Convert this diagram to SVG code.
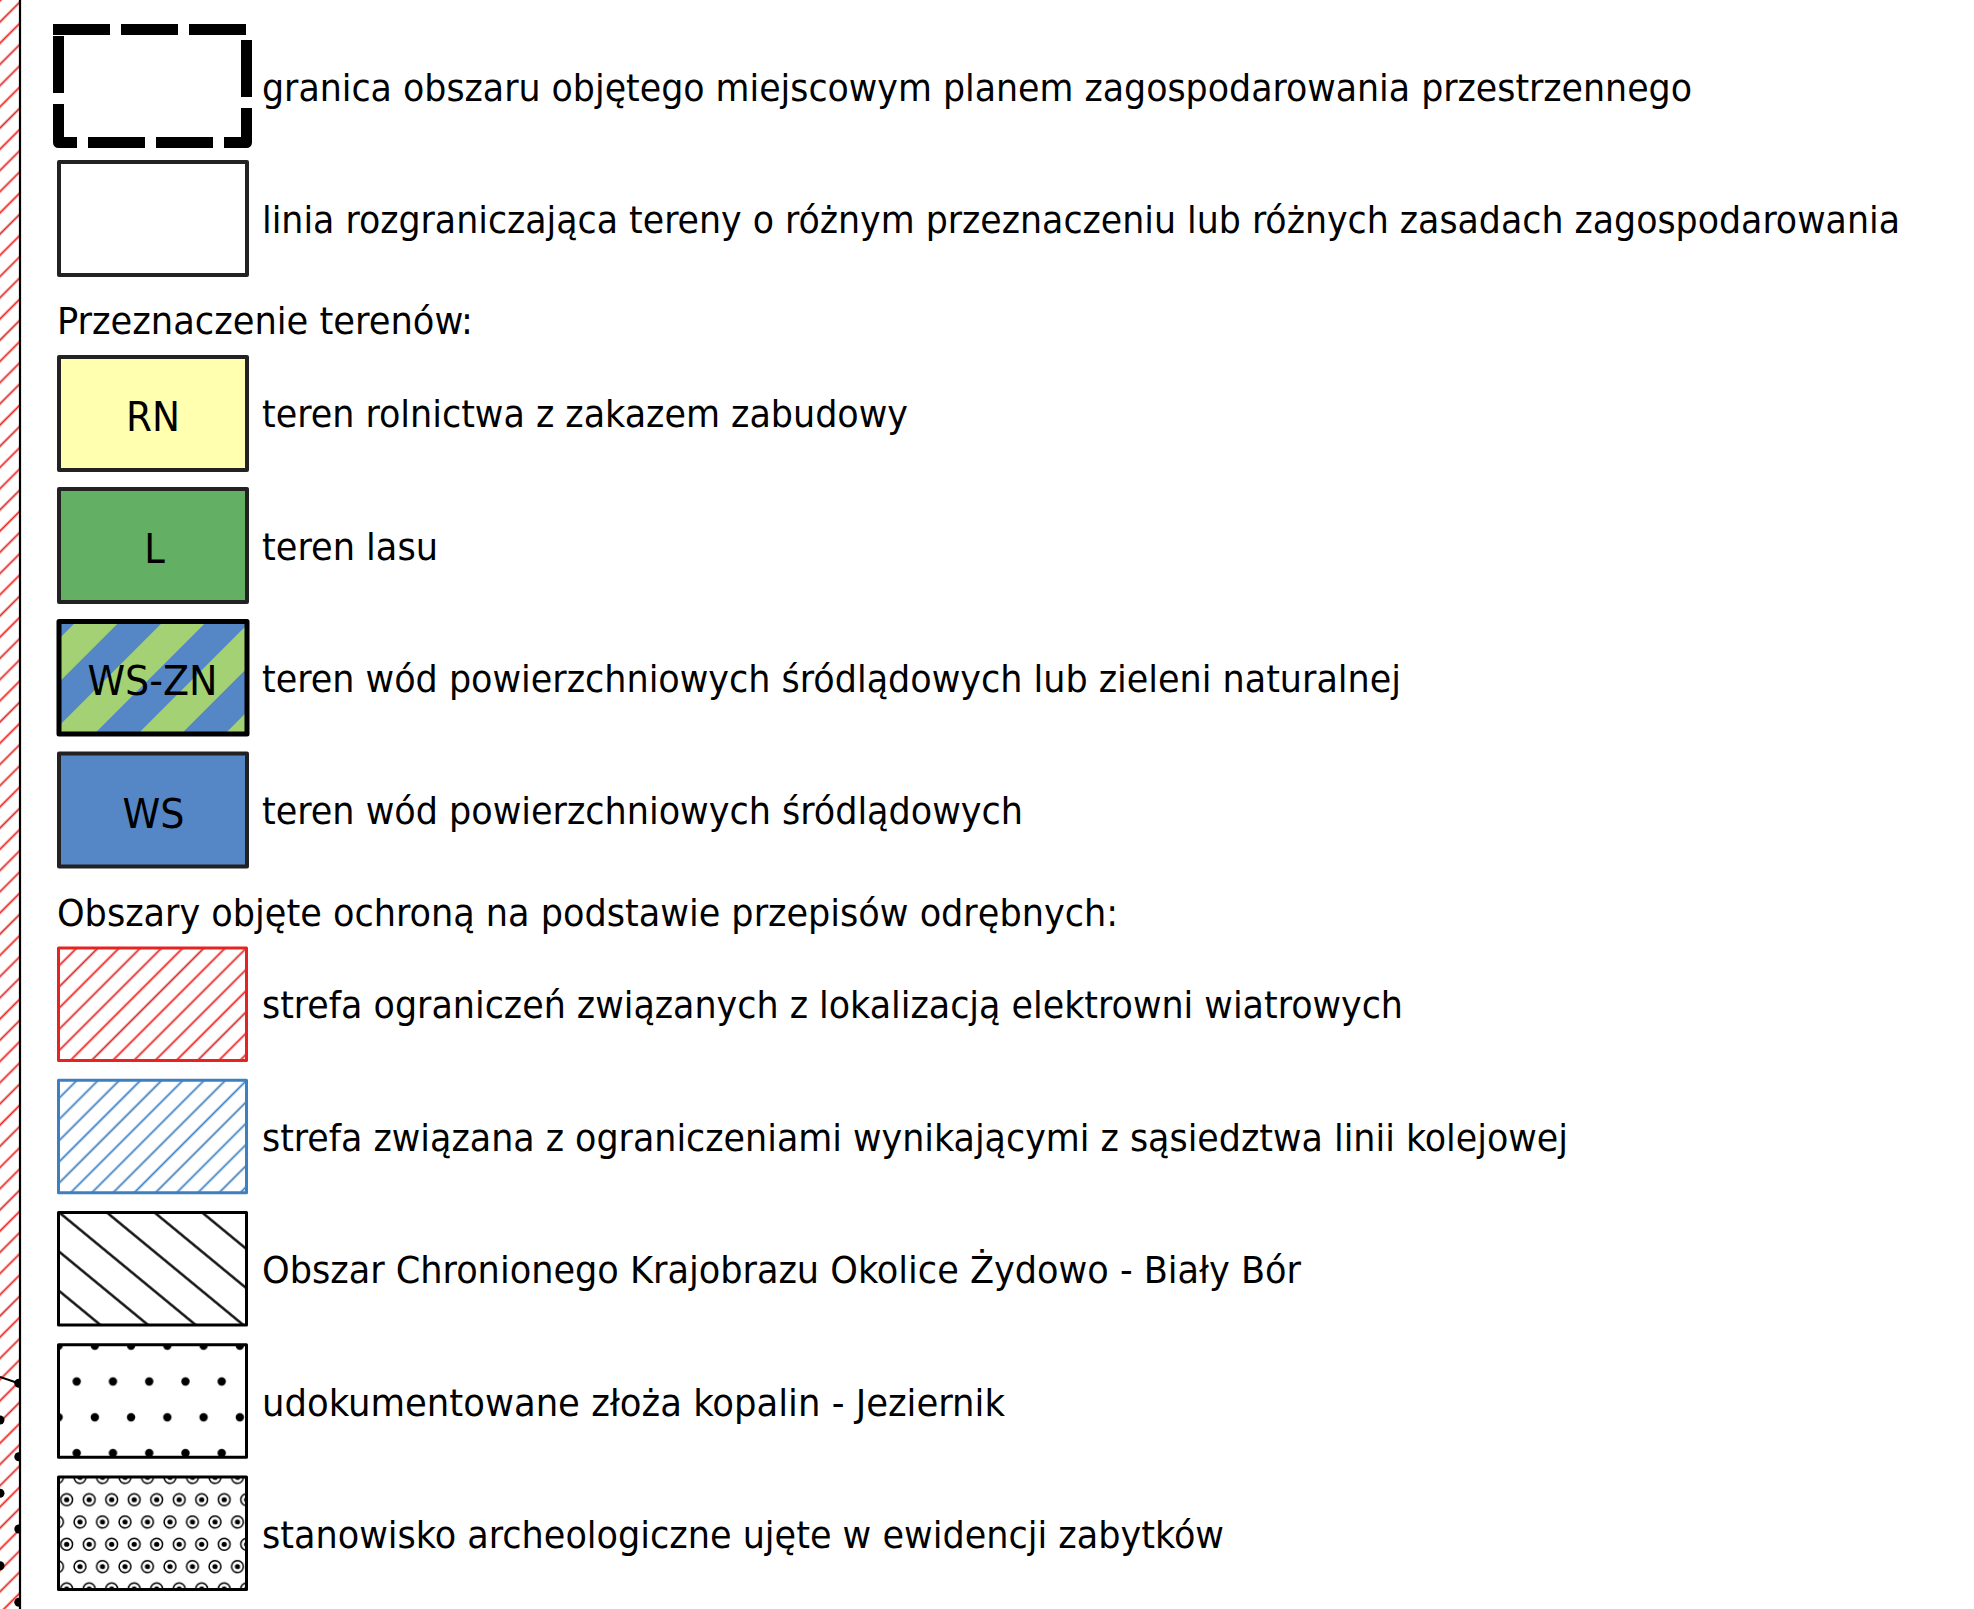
<svg xmlns="http://www.w3.org/2000/svg" width="1974" height="1609" viewBox="0 0 1974 1609">
<style>
.t{font-family:"DejaVu Sans Condensed","DejaVu Sans","Liberation Sans",sans-serif;font-size:38px;fill:#000}
.lab{font-family:"DejaVu Sans Condensed","DejaVu Sans","Liberation Sans",sans-serif;font-size:41px;fill:#000;text-anchor:middle}
.bx{stroke:#222;stroke-width:4;stroke-linejoin:round}
.bx3{stroke-width:3;stroke-linejoin:round}
</style>
<defs>
<pattern id="hRed" patternUnits="userSpaceOnUse" x="-2.9" y="0" width="15" height="15" patternTransform="rotate(45)">
<rect x="6.6" y="0" width="1.8" height="15" fill="#e52421"/>
</pattern>
<pattern id="hStrip" patternUnits="userSpaceOnUse" x="-7" y="0" width="15" height="15" patternTransform="rotate(45)">
<rect x="6.6" y="0" width="1.8" height="15" fill="#e52421"/>
</pattern>
<pattern id="hBlue" patternUnits="userSpaceOnUse" x="0.8" y="0" width="15" height="15" patternTransform="rotate(45)">
<rect x="6.6" y="0" width="1.8" height="15" fill="#3d80c2"/>
</pattern>
<pattern id="hBlack" patternUnits="userSpaceOnUse" x="0" y="4.05" width="50" height="30.3" patternTransform="rotate(39.5)">
<rect x="0" y="14" width="50" height="2.3" fill="#000"/>
</pattern>
<pattern id="stripes" patternUnits="userSpaceOnUse" x="32.2" y="0" width="61.5" height="20" patternTransform="rotate(45)">
<rect x="0" y="0" width="30.75" height="20" fill="#5586c6"/>
<rect x="30.75" y="0" width="30.75" height="20" fill="#a3d173"/>
</pattern>
<pattern id="dots" patternUnits="userSpaceOnUse" x="58.6" y="1363.6" width="36.25" height="71.6">
<circle cx="18.125" cy="17.9" r="4.2" fill="#000"/>
<circle cx="0" cy="53.7" r="4.2" fill="#000"/>
<circle cx="36.25" cy="53.7" r="4.2" fill="#000"/>
</pattern>
<pattern id="arch" patternUnits="userSpaceOnUse" x="55.45" y="1488.55" width="22.5" height="44.6">
<g fill="none" stroke="#000" stroke-width="1.5">
<circle cx="11.25" cy="11.15" r="5.9"/>
<circle cx="2.05" cy="33.45" r="5.9"/>
<circle cx="24.55" cy="33.45" r="5.9"/>
</g>
<circle cx="11.25" cy="11.15" r="2.6" fill="#000"/>
<circle cx="2.05" cy="33.45" r="2.6" fill="#000"/>
<circle cx="24.55" cy="33.45" r="2.6" fill="#000"/>
</pattern>
<clipPath id="stripClip"><rect x="0" y="0" width="19.5" height="1609"/></clipPath>
</defs>
<rect x="0" y="0" width="1974" height="1609" fill="#fff"/>

<g id="map-edge">
<g clip-path="url(#stripClip)">
<rect x="0" y="0" width="19.5" height="1609" fill="url(#hStrip)"/>
<line x1="0" y1="1377" x2="18.5" y2="1383.3" stroke="#000" stroke-width="2"/>
<g fill="#000">
<circle cx="18.8" cy="1383.3" r="4.5"/>
<circle cx="0" cy="1420" r="4.5"/>
<circle cx="18.8" cy="1456.7" r="4.5"/>
<circle cx="0" cy="1493.3" r="4.5"/>
<circle cx="18.8" cy="1529" r="4.5"/>
<circle cx="0" cy="1565.7" r="4.5"/>
<circle cx="18.8" cy="1602.3" r="4.5"/>
</g>
</g>
<line x1="20" y1="0" x2="20" y2="1609" stroke="#000" stroke-width="2.2"/>
</g>

<g id="connectors"></g>

<g id="item-granica">
<path d="M58.5,29.5 H246.5 V142.5 H58.5 Z" fill="none" stroke="#000" stroke-width="11" stroke-dasharray="46 22" stroke-linecap="square" stroke-linejoin="round"/>
<text class="t" x="262" y="100.5" textLength="1430" lengthAdjust="spacingAndGlyphs">granica obszaru objętego miejscowym planem zagospodarowania przestrzennego</text>
</g>

<g id="item-linia">
<rect class="bx" x="59" y="162" width="188" height="113" fill="#fff"/>
<text class="t" x="262" y="232.5" textLength="1638" lengthAdjust="spacingAndGlyphs">linia rozgraniczająca tereny o różnym przeznaczeniu lub różnych zasadach zagospodarowania</text>
</g>

<g id="header-przeznaczenie">
<text class="t" x="57" y="334.3" textLength="416" lengthAdjust="spacingAndGlyphs">Przeznaczenie terenów:</text>
</g>

<g id="item-RN">
<rect class="bx" x="59" y="357" width="188" height="113" fill="#ffffaf"/>
<text class="lab" x="153" y="430.8" textLength="54" lengthAdjust="spacingAndGlyphs">RN</text>
<text class="t" x="262" y="427.3" textLength="646" lengthAdjust="spacingAndGlyphs">teren rolnictwa z zakazem zabudowy</text>
</g>

<g id="item-L">
<rect class="bx" x="59" y="489" width="188" height="113" fill="#63af63"/>
<text class="lab" x="154.5" y="563">L</text>
<text class="t" x="262" y="559.5" textLength="176" lengthAdjust="spacingAndGlyphs">teren lasu</text>
</g>

<g id="item-WS-ZN">
<rect x="59" y="621.5" width="188" height="112.5" fill="url(#stripes)" stroke="#000" stroke-width="5" stroke-linejoin="round"/>
<text class="lab" x="152.5" y="695" textLength="130" lengthAdjust="spacingAndGlyphs">WS-ZN</text>
<text class="t" x="262" y="691.8" textLength="1139" lengthAdjust="spacingAndGlyphs">teren wód powierzchniowych śródlądowych lub zieleni naturalnej</text>
</g>

<g id="item-WS">
<rect class="bx" x="59" y="753.5" width="188" height="113" fill="#5586c6"/>
<text class="lab" x="153.5" y="827.6" textLength="62" lengthAdjust="spacingAndGlyphs">WS</text>
<text class="t" x="262" y="824" textLength="761" lengthAdjust="spacingAndGlyphs">teren wód powierzchniowych śródlądowych</text>
</g>

<g id="header-obszary">
<text class="t" x="57" y="925.5" textLength="1061" lengthAdjust="spacingAndGlyphs">Obszary objęte ochroną na podstawie przepisów odrębnych:</text>
</g>

<g id="item-wiatrowe">
<rect class="bx3" x="58.5" y="948" width="188" height="112.5" fill="url(#hRed)" stroke="#e52421"/>
<text class="t" x="262" y="1018.4" textLength="1141" lengthAdjust="spacingAndGlyphs">strefa ograniczeń związanych z lokalizacją elektrowni wiatrowych</text>
</g>

<g id="item-kolej">
<rect class="bx3" x="58.5" y="1080.3" width="188" height="112.5" fill="url(#hBlue)" stroke="#3d80c2"/>
<text class="t" x="262" y="1150.6" textLength="1306" lengthAdjust="spacingAndGlyphs">strefa związana z ograniczeniami wynikającymi z sąsiedztwa linii kolejowej</text>
</g>

<g id="item-OChK">
<rect class="bx3" x="58.5" y="1212.5" width="188" height="112.5" fill="url(#hBlack)" stroke="#000"/>
<text class="t" x="262" y="1282.8" textLength="1039" lengthAdjust="spacingAndGlyphs">Obszar Chronionego Krajobrazu Okolice Żydowo - Biały Bór</text>
</g>

<g id="item-zloza">
<rect class="bx3" x="58.5" y="1344.7" width="188" height="112.5" fill="url(#dots)" stroke="#000"/>
<text class="t" x="262" y="1415.5" textLength="743" lengthAdjust="spacingAndGlyphs">udokumentowane złoża kopalin - Jeziernik</text>
</g>

<g id="item-archeo">
<rect class="bx3" x="58.5" y="1476.9" width="188" height="112.5" fill="url(#arch)" stroke="#000"/>
<text class="t" x="262" y="1547.5" textLength="962" lengthAdjust="spacingAndGlyphs">stanowisko archeologiczne ujęte w ewidencji zabytków</text>
</g>
</svg>
